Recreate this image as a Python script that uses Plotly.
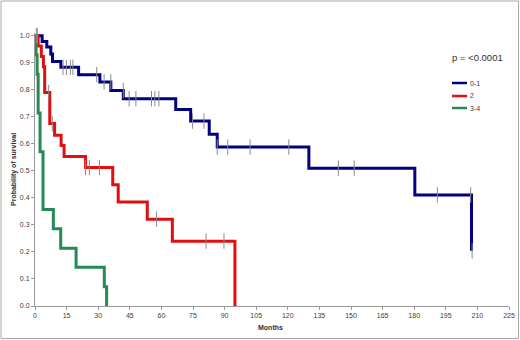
import plotly.graph_objects as go

# ---- data ----
months_ticks = list(range(0, 226, 15))

g01_t = [0, 3.4, 5.6, 7.5, 8.3, 12.3, 20.7, 30.8, 36.0, 41.9, 66.8, 73.9, 82.7, 86.5, 130.0, 180.3, 207.2]
g01_s = [1.0, 0.979, 0.958, 0.932, 0.905, 0.883, 0.856, 0.829, 0.797, 0.767, 0.727, 0.684, 0.635, 0.588, 0.51, 0.411, 0.204]
g01_ct = [0.6, 13.3, 14.9, 16.8, 18.0, 29.3, 32.8, 36.0, 41.9, 44.7, 47.9, 55.3, 56.9, 58.8, 74.8, 80.2,
          86.5, 91.5, 102.1, 120.5, 144.0, 151.5, 191.0, 206.8, 207.5]
g01_cs = [1.0, 0.883, 0.883, 0.883, 0.883, 0.856, 0.829, 0.829, 0.797, 0.767, 0.767, 0.767, 0.767, 0.767, 0.684, 0.684,
          0.588, 0.588, 0.588, 0.588, 0.51, 0.51, 0.411, 0.411, 0.204]

g2_t = [0, 1.5, 3.0, 4.0, 4.6, 7.0, 9.3, 12.4, 13.8, 24.0, 36.9, 39.5, 53.3, 65.2, 94.9]
g2_s = [1.0, 0.962, 0.923, 0.885, 0.79, 0.675, 0.632, 0.594, 0.553, 0.512, 0.449, 0.385, 0.321, 0.24, 0.0]
g2_ct = [1.1, 6.5, 8.2, 24.0, 25.8, 30.6, 57.7, 81.2, 89.7]
g2_cs = [1.0, 0.79, 0.675, 0.512, 0.512, 0.512, 0.321, 0.24, 0.24]

g34_t = [0, 0.5, 1.0, 1.5, 2.4, 3.8, 8.7, 12.2, 19.5, 32.9, 34.0]
g34_s = [1.0, 0.929, 0.857, 0.714, 0.571, 0.357, 0.286, 0.214, 0.143, 0.071, 0.0]

groups = [
    ("0-1", g01_t, g01_s, g01_ct, g01_cs, "#000080"),
    ("2", g2_t, g2_s, g2_ct, g2_cs, "#e01010"),
    ("3-4", g34_t, g34_s, [], [], "#258a55"),
]

fig = go.Figure()
for name, t, s, ct, cs, col in groups:
    fig.add_trace(go.Scatter(x=t, y=s, mode="lines", line=dict(color=col, width=3, shape="hv"),
                             name=name, showlegend=False))
for name, t, s, ct, cs, col in groups:
    if ct:
        fig.add_trace(go.Scatter(x=ct, y=cs, mode="markers", showlegend=False,
                                 marker=dict(symbol="line-ns-open", size=11, color="#8a8a8a",
                                             line=dict(color="#8a8a8a", width=1)),
                                 cliponaxis=False))

# plot area px mapping helpers
L, R, T, B = 35, 509, 33, 306
W, H = R - L, B - T
def px(x): return (x - L) / W
def py(y): return (B - y) / H

fig.update_layout(
    template="none",
    width=520, height=340,
    margin=dict(l=L, r=520 - R, t=T, b=340 - B),
    paper_bgcolor="white", plot_bgcolor="white",
    font=dict(family="Liberation Sans", size=7, color="#404040"),
    xaxis=dict(range=[0, 225], tickvals=months_ticks, showline=True, linecolor="#9a9a9a",
               linewidth=1, ticks="outside", ticklen=3, tickcolor="#9a9a9a", automargin=False,
               showgrid=False, zeroline=False, tickfont=dict(size=7, color="#404040")),
    yaxis=dict(range=[0, 1.01], tickvals=[i / 10 for i in range(11)], tickformat=".1f",
               showline=True, linecolor="#9a9a9a", linewidth=1, ticks="outside", ticklen=3,
               tickcolor="#9a9a9a", showgrid=False, zeroline=False, automargin=False,
               tickfont=dict(size=7, color="#404040")),
)

# outer border
fig.add_shape(type="rect", xref="paper", yref="paper",
              x0=px(1), x1=px(518.5), y0=py(338.5), y1=py(1),
              line=dict(color="#a8a8a8", width=1), fillcolor="rgba(0,0,0,0)", layer="below")

# axis titles
fig.add_annotation(text="<b>Months</b>", xref="paper", yref="paper", x=px(270), y=py(327),
                   xanchor="center", yanchor="middle",
                   showarrow=False, font=dict(size=7, color="#303030"))
fig.add_annotation(text="<b>Probability of survival</b>", xref="paper", yref="paper",
                   x=px(14), y=py(170), xanchor="center", yanchor="middle",
                   textangle=-90, showarrow=False,
                   font=dict(size=7, color="#303030"))

# p value
fig.add_annotation(text="p = <0.0001", xref="paper", yref="paper", x=px(450), y=py(57),
                   xanchor="left", yanchor="middle", showarrow=False,
                   font=dict(family="Liberation Sans", size=9.5, color="#303030"))

# manual legend
legend_y = [83, 96, 108]
for (name, t, s, ct, cs, col), ly in zip(groups, legend_y):
    fig.add_shape(type="line", xref="paper", yref="paper", x0=px(452), x1=px(467),
                  y0=py(ly), y1=py(ly), line=dict(color=col, width=2.5))
    fig.add_annotation(text=name, xref="paper", yref="paper", x=px(467.5), y=py(ly),
                       xanchor="left", yanchor="middle", showarrow=False,
                       font=dict(size=7, color="#404040"))

fig.write_html("out.html", config={"displayModeBar": False},
               post_script="document.body.style.margin='0px';document.body.style.overflow='hidden';")
